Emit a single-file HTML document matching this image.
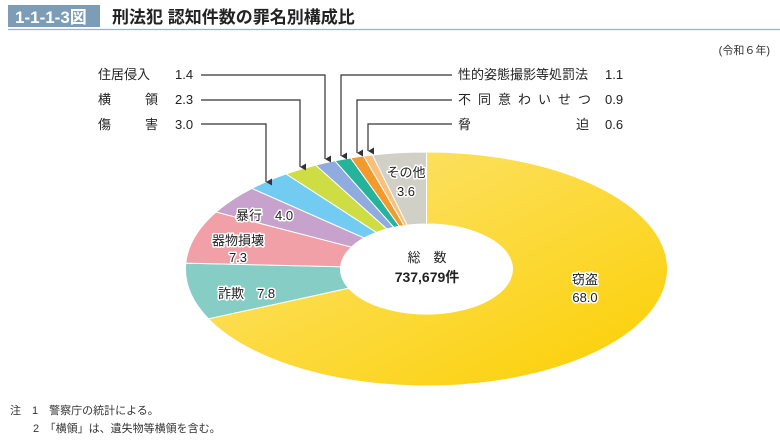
<!DOCTYPE html>
<html><head><meta charset="utf-8">
<style>
body{margin:0;background:#fff;width:780px;height:441px;overflow:hidden;font-family:"Liberation Sans","Noto Sans CJK JP",sans-serif;}
svg text{font-family:"Liberation Sans","Noto Sans CJK JP",sans-serif;}
</style></head><body>
<svg id="s" width="780" height="441" xmlns="http://www.w3.org/2000/svg">
<defs>
<linearGradient id="gy" x1="0" y1="0" x2="1" y2="1">
<stop offset="0" stop-color="#fde57a"/><stop offset="1" stop-color="#fbcf00"/></linearGradient>
<marker id="ar" markerWidth="8" markerHeight="8" refX="4" refY="7" orient="auto" markerUnits="userSpaceOnUse">
<path d="M0.5,1 L7.5,1 L4,7 Z" fill="#333"/></marker>
</defs>
<rect x="8" y="5" width="92" height="22" fill="#7d9cb6"/>
<text x="15" y="23" font-size="17" font-weight="bold" fill="#fff">1-1-1-3図</text>
<text x="112" y="23" font-size="17" font-weight="bold" fill="#222">刑法犯 認知件数の罪名別構成比</text>
<line x1="8" y1="29.5" x2="780" y2="29.5" stroke="#9ab3cb" stroke-width="1.2"/>
<text x="770" y="54" font-size="11" fill="#333" text-anchor="end">(令和６年)</text>
<g id="pie"></g>
<text x="427" y="262" font-size="13" fill="#222" text-anchor="middle">総　数</text>
<text x="427" y="282" font-size="14" font-weight="bold" fill="#222" text-anchor="middle">737,679件</text>
<g font-size="13" fill="#222" stroke="#fff" stroke-width="3" paint-order="stroke" stroke-linejoin="round">
<text x="585" y="284" text-anchor="middle">窃盗</text>
<text x="585" y="302" text-anchor="middle">68.0</text>
<text x="218" y="298">詐欺　7.8</text>
<text x="238" y="245" text-anchor="middle">器物損壊</text>
<text x="238" y="262" text-anchor="middle">7.3</text>
<text x="236" y="220">暴行　4.0</text>
<text x="406" y="177" text-anchor="middle">その他</text>
<text x="406" y="196" text-anchor="middle">3.6</text>
</g>
<g font-size="13" fill="#222">
<text x="98" y="79">住居侵入</text><text x="175" y="79">1.4</text>
<text x="98" y="104">横</text><text x="145" y="104">領</text><text x="175" y="104">2.3</text>
<text x="98" y="129">傷</text><text x="145" y="129">害</text><text x="175" y="129">3.0</text>
<text x="458" y="79">性的姿態撮影等処罰法</text><text x="605" y="79">1.1</text>
<text x="458" y="104" letter-spacing="7">不同意わいせつ</text><text x="605" y="104">0.9</text>
<text x="458" y="129">脅</text><text x="576" y="129">迫</text><text x="605" y="129">0.6</text>
</g>
<g stroke="#333" stroke-width="1.2" fill="none">
<polyline points="201,75 325,75 325,159" marker-end="url(#ar)"/>
<polyline points="201,100 300,100 300,167" marker-end="url(#ar)"/>
<polyline points="201,124 266,124 266,182" marker-end="url(#ar)"/>
<polyline points="452,75 341,75 341,156" marker-end="url(#ar)"/>
<polyline points="452,100 357,100 357,153" marker-end="url(#ar)"/>
<polyline points="452,124 368,124 368,151" marker-end="url(#ar)"/>
</g>
<g font-size="11" fill="#333">
<text x="10" y="414">注　1　警察庁の統計による。</text>
<text x="33" y="432">2　「横領」は、遺失物等横領を含む。</text>
</g>
</svg>
<script>
var cx=426.5,cy=269,rx=241,ry=117,ix=86,iy=45;
var d=[[68.0,'url(#gy)'],[7.8,'#86cdc5'],[7.3,'#f0a0a6'],[4.0,'#c6a2cd'],[3.0,'#72ccf1'],[2.3,'#cfdd45'],[1.4,'#90abdd'],[1.1,'#25b39b'],[0.9,'#f39a2c'],[0.6,'#f8c07a'],[3.6,'#d0d0c6']];
var g=document.getElementById('pie'),a=-Math.PI/2,h='';
function p(t,r1,r2){return (cx+r1*Math.cos(t)).toFixed(2)+','+(cy+r2*Math.sin(t)).toFixed(2);}
d.forEach(function(s){var b=a+s[0]/100*2*Math.PI,l=(b-a)>Math.PI?1:0;
h+='<path d="M'+p(a,rx,ry)+' A'+rx+','+ry+' 0 '+l+' 1 '+p(b,rx,ry)+' L'+p(b,ix,iy)+' A'+ix+','+iy+' 0 '+l+' 0 '+p(a,ix,iy)+' Z" fill="'+s[1]+'" stroke="#fff" stroke-width="1"/>';a=b;});
g.innerHTML=h;
</script>
</body></html>
